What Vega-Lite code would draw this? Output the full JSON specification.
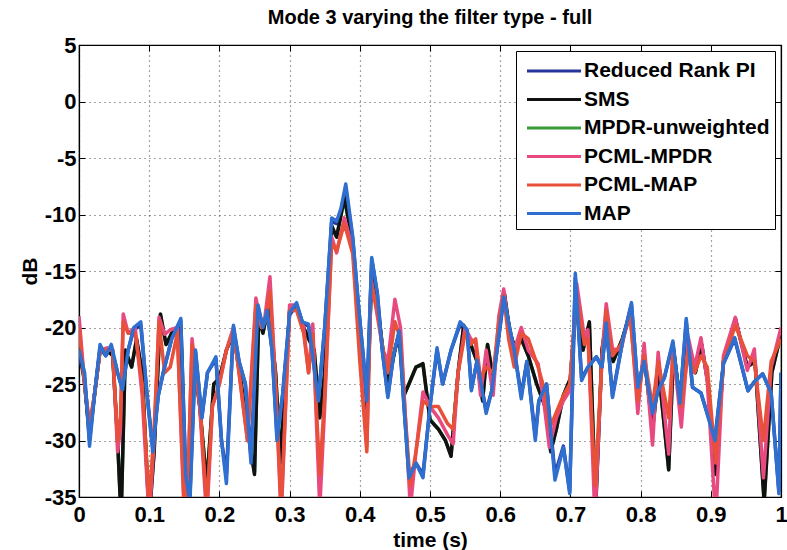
{
  "$schema": "https://vega.github.io/schema/vega-lite/v6.json",
  "width": 702,
  "height": 452,
  "autosize": {"type": "none"},
  "padding": {"left": 79, "top": 45, "right": 6, "bottom": 53},
  "background": "white",
  "title": {"text": "Mode 3 varying the filter type - full", "font": "Liberation Sans", "fontSize": 20, "fontWeight": "bold", "color": "black", "offset": 6},
  "config": {
    "view": {"stroke": "black", "strokeWidth": 1.2},
    "axis": {"domainColor": "black", "domainWidth": 1.2, "tickColor": "black", "tickWidth": 1, "labelFont": "Liberation Sans", "labelFontWeight": "bold", "labelFontSize": 22, "labelColor": "black", "titleFont": "Liberation Sans", "titleFontWeight": "bold", "titleFontSize": 21, "titleColor": "black", "gridColor": "#333333", "gridDash": [1, 4], "gridWidth": 1.2, "gridOpacity": 0.9}
  },
  "data": {"values": [
    {"s":"Reduced Rank PI","t":0.000,"v":-22.5},{"s":"Reduced Rank PI","t":0.008,"v":-24.5},{"s":"Reduced Rank PI","t":0.015,"v":-30},{"s":"Reduced Rank PI","t":0.022,"v":-26},{"s":"Reduced Rank PI","t":0.030,"v":-21.8},{"s":"Reduced Rank PI","t":0.038,"v":-22.5},{"s":"Reduced Rank PI","t":0.046,"v":-21.8},{"s":"Reduced Rank PI","t":0.055,"v":-24},{"s":"Reduced Rank PI","t":0.062,"v":-25.5},{"s":"Reduced Rank PI","t":0.070,"v":-22},{"s":"Reduced Rank PI","t":0.078,"v":-20.2},{"s":"Reduced Rank PI","t":0.088,"v":-19.8},{"s":"Reduced Rank PI","t":0.097,"v":-26},{"s":"Reduced Rank PI","t":0.105,"v":-30.5},{"s":"Reduced Rank PI","t":0.113,"v":-26},{"s":"Reduced Rank PI","t":0.120,"v":-24},{"s":"Reduced Rank PI","t":0.132,"v":-21},{"s":"Reduced Rank PI","t":0.145,"v":-19.4},{"s":"Reduced Rank PI","t":0.152,"v":-33},{"s":"Reduced Rank PI","t":0.158,"v":-35},{"s":"Reduced Rank PI","t":0.166,"v":-22.2},{"s":"Reduced Rank PI","t":0.175,"v":-28},{"s":"Reduced Rank PI","t":0.183,"v":-24},{"s":"Reduced Rank PI","t":0.195,"v":-22.8},{"s":"Reduced Rank PI","t":0.203,"v":-30},{"s":"Reduced Rank PI","t":0.210,"v":-33},{"s":"Reduced Rank PI","t":0.220,"v":-20},{"s":"Reduced Rank PI","t":0.228,"v":-23},{"s":"Reduced Rank PI","t":0.237,"v":-25},{"s":"Reduced Rank PI","t":0.245,"v":-31.5},{"s":"Reduced Rank PI","t":0.255,"v":-18.2},{"s":"Reduced Rank PI","t":0.262,"v":-20},{"s":"Reduced Rank PI","t":0.268,"v":-18.7},{"s":"Reduced Rank PI","t":0.275,"v":-22},{"s":"Reduced Rank PI","t":0.282,"v":-29.5},{"s":"Reduced Rank PI","t":0.290,"v":-26},{"s":"Reduced Rank PI","t":0.300,"v":-18.9},{"s":"Reduced Rank PI","t":0.310,"v":-18},{"s":"Reduced Rank PI","t":0.318,"v":-19.5},{"s":"Reduced Rank PI","t":0.327,"v":-19.9},{"s":"Reduced Rank PI","t":0.334,"v":-23},{"s":"Reduced Rank PI","t":0.341,"v":-26.3},{"s":"Reduced Rank PI","t":0.350,"v":-20},{"s":"Reduced Rank PI","t":0.360,"v":-10.6},{"s":"Reduced Rank PI","t":0.367,"v":-10.8},{"s":"Reduced Rank PI","t":0.373,"v":-9.8},{"s":"Reduced Rank PI","t":0.380,"v":-7.7},{"s":"Reduced Rank PI","t":0.390,"v":-12.2},{"s":"Reduced Rank PI","t":0.398,"v":-18},{"s":"Reduced Rank PI","t":0.405,"v":-22.6},{"s":"Reduced Rank PI","t":0.410,"v":-26.3},{"s":"Reduced Rank PI","t":0.417,"v":-14},{"s":"Reduced Rank PI","t":0.425,"v":-17},{"s":"Reduced Rank PI","t":0.432,"v":-22},{"s":"Reduced Rank PI","t":0.440,"v":-26},{"s":"Reduced Rank PI","t":0.448,"v":-22.5},{"s":"Reduced Rank PI","t":0.456,"v":-20.5},{"s":"Reduced Rank PI","t":0.463,"v":-27},{"s":"Reduced Rank PI","t":0.470,"v":-33},{"s":"Reduced Rank PI","t":0.480,"v":-32},{"s":"Reduced Rank PI","t":0.490,"v":-33},{"s":"Reduced Rank PI","t":0.500,"v":-27},{"s":"Reduced Rank PI","t":0.510,"v":-22},{"s":"Reduced Rank PI","t":0.518,"v":-25},{"s":"Reduced Rank PI","t":0.530,"v":-22},{"s":"Reduced Rank PI","t":0.543,"v":-19.7},{"s":"Reduced Rank PI","t":0.553,"v":-20.4},{"s":"Reduced Rank PI","t":0.559,"v":-25.4},{"s":"Reduced Rank PI","t":0.567,"v":-23},{"s":"Reduced Rank PI","t":0.580,"v":-27.4},{"s":"Reduced Rank PI","t":0.588,"v":-25.6},{"s":"Reduced Rank PI","t":0.605,"v":-17.5},{"s":"Reduced Rank PI","t":0.614,"v":-20.2},{"s":"Reduced Rank PI","t":0.620,"v":-22},{"s":"Reduced Rank PI","t":0.630,"v":-26},{"s":"Reduced Rank PI","t":0.638,"v":-23},{"s":"Reduced Rank PI","t":0.650,"v":-29.6},{"s":"Reduced Rank PI","t":0.655,"v":-26.5},{"s":"Reduced Rank PI","t":0.666,"v":-25},{"s":"Reduced Rank PI","t":0.678,"v":-33},{"s":"Reduced Rank PI","t":0.690,"v":-30.5},{"s":"Reduced Rank PI","t":0.699,"v":-34.5},{"s":"Reduced Rank PI","t":0.707,"v":-15.6},{"s":"Reduced Rank PI","t":0.716,"v":-24.5},{"s":"Reduced Rank PI","t":0.725,"v":-23.5},{"s":"Reduced Rank PI","t":0.737,"v":-22.6},{"s":"Reduced Rank PI","t":0.745,"v":-23.5},{"s":"Reduced Rank PI","t":0.751,"v":-19.8},{"s":"Reduced Rank PI","t":0.760,"v":-26},{"s":"Reduced Rank PI","t":0.775,"v":-21},{"s":"Reduced Rank PI","t":0.787,"v":-18},{"s":"Reduced Rank PI","t":0.796,"v":-25.3},{"s":"Reduced Rank PI","t":0.805,"v":-23},{"s":"Reduced Rank PI","t":0.817,"v":-27.4},{"s":"Reduced Rank PI","t":0.825,"v":-25.6},{"s":"Reduced Rank PI","t":0.834,"v":-24.4},{"s":"Reduced Rank PI","t":0.846,"v":-21.4},{"s":"Reduced Rank PI","t":0.856,"v":-26.5},{"s":"Reduced Rank PI","t":0.865,"v":-19.5},{"s":"Reduced Rank PI","t":0.874,"v":-25.3},{"s":"Reduced Rank PI","t":0.886,"v":-25.8},{"s":"Reduced Rank PI","t":0.906,"v":-29.8},{"s":"Reduced Rank PI","t":0.918,"v":-23.2},{"s":"Reduced Rank PI","t":0.934,"v":-21},{"s":"Reduced Rank PI","t":0.953,"v":-25.6},{"s":"Reduced Rank PI","t":0.962,"v":-24.8},{"s":"Reduced Rank PI","t":0.974,"v":-24.1},{"s":"Reduced Rank PI","t":0.986,"v":-25.8},{"s":"Reduced Rank PI","t":0.997,"v":-34.5},{"s":"Reduced Rank PI","t":1.000,"v":-24},

    {"s":"MPDR-unweighted","t":0.000,"v":-21.1},{"s":"MPDR-unweighted","t":0.008,"v":-25},{"s":"MPDR-unweighted","t":0.015,"v":-29.4},{"s":"MPDR-unweighted","t":0.022,"v":-26},{"s":"MPDR-unweighted","t":0.030,"v":-22.1},{"s":"MPDR-unweighted","t":0.040,"v":-22},{"s":"MPDR-unweighted","t":0.048,"v":-22.5},{"s":"MPDR-unweighted","t":0.055,"v":-30},{"s":"MPDR-unweighted","t":0.060,"v":-36.8},{"s":"MPDR-unweighted","t":0.066,"v":-22.1},{"s":"MPDR-unweighted","t":0.075,"v":-23.5},{"s":"MPDR-unweighted","t":0.082,"v":-21.1},{"s":"MPDR-unweighted","t":0.090,"v":-24},{"s":"MPDR-unweighted","t":0.100,"v":-36.8},{"s":"MPDR-unweighted","t":0.107,"v":-31},{"s":"MPDR-unweighted","t":0.116,"v":-18.9},{"s":"MPDR-unweighted","t":0.124,"v":-21.5},{"s":"MPDR-unweighted","t":0.132,"v":-20.6},{"s":"MPDR-unweighted","t":0.145,"v":-20},{"s":"MPDR-unweighted","t":0.152,"v":-35.8},{"s":"MPDR-unweighted","t":0.158,"v":-33},{"s":"MPDR-unweighted","t":0.163,"v":-22.5},{"s":"MPDR-unweighted","t":0.172,"v":-27},{"s":"MPDR-unweighted","t":0.182,"v":-33.8},{"s":"MPDR-unweighted","t":0.192,"v":-25},{"s":"MPDR-unweighted","t":0.200,"v":-24.5},{"s":"MPDR-unweighted","t":0.210,"v":-22},{"s":"MPDR-unweighted","t":0.220,"v":-20.6},{"s":"MPDR-unweighted","t":0.230,"v":-24.5},{"s":"MPDR-unweighted","t":0.240,"v":-29},{"s":"MPDR-unweighted","t":0.250,"v":-32.8},{"s":"MPDR-unweighted","t":0.256,"v":-19.1},{"s":"MPDR-unweighted","t":0.262,"v":-20.5},{"s":"MPDR-unweighted","t":0.270,"v":-18.1},{"s":"MPDR-unweighted","t":0.280,"v":-24},{"s":"MPDR-unweighted","t":0.287,"v":-31.8},{"s":"MPDR-unweighted","t":0.300,"v":-18.6},{"s":"MPDR-unweighted","t":0.310,"v":-18},{"s":"MPDR-unweighted","t":0.320,"v":-20},{"s":"MPDR-unweighted","t":0.327,"v":-21},{"s":"MPDR-unweighted","t":0.335,"v":-22},{"s":"MPDR-unweighted","t":0.343,"v":-27.9},{"s":"MPDR-unweighted","t":0.350,"v":-24},{"s":"MPDR-unweighted","t":0.360,"v":-11.1},{"s":"MPDR-unweighted","t":0.367,"v":-12},{"s":"MPDR-unweighted","t":0.378,"v":-8.6},{"s":"MPDR-unweighted","t":0.390,"v":-12.5},{"s":"MPDR-unweighted","t":0.400,"v":-21},{"s":"MPDR-unweighted","t":0.410,"v":-27.9},{"s":"MPDR-unweighted","t":0.417,"v":-15.1},{"s":"MPDR-unweighted","t":0.425,"v":-18},{"s":"MPDR-unweighted","t":0.433,"v":-22},{"s":"MPDR-unweighted","t":0.440,"v":-25},{"s":"MPDR-unweighted","t":0.450,"v":-22},{"s":"MPDR-unweighted","t":0.456,"v":-20.5},{"s":"MPDR-unweighted","t":0.463,"v":-26},{"s":"MPDR-unweighted","t":0.470,"v":-25},{"s":"MPDR-unweighted","t":0.480,"v":-23.5},{"s":"MPDR-unweighted","t":0.490,"v":-23.3},{"s":"MPDR-unweighted","t":0.500,"v":-28.1},{"s":"MPDR-unweighted","t":0.512,"v":-29},{"s":"MPDR-unweighted","t":0.522,"v":-30},{"s":"MPDR-unweighted","t":0.530,"v":-31.3},{"s":"MPDR-unweighted","t":0.540,"v":-24},{"s":"MPDR-unweighted","t":0.548,"v":-19.9},{"s":"MPDR-unweighted","t":0.558,"v":-21.5},{"s":"MPDR-unweighted","t":0.567,"v":-23},{"s":"MPDR-unweighted","t":0.575,"v":-26.4},{"s":"MPDR-unweighted","t":0.582,"v":-21.5},{"s":"MPDR-unweighted","t":0.590,"v":-24.5},{"s":"MPDR-unweighted","t":0.600,"v":-19},{"s":"MPDR-unweighted","t":0.606,"v":-17.1},{"s":"MPDR-unweighted","t":0.614,"v":-20.5},{"s":"MPDR-unweighted","t":0.622,"v":-22},{"s":"MPDR-unweighted","t":0.630,"v":-21},{"s":"MPDR-unweighted","t":0.640,"v":-22.5},{"s":"MPDR-unweighted","t":0.652,"v":-25},{"s":"MPDR-unweighted","t":0.664,"v":-27},{"s":"MPDR-unweighted","t":0.672,"v":-30.9},{"s":"MPDR-unweighted","t":0.680,"v":-29},{"s":"MPDR-unweighted","t":0.690,"v":-26},{"s":"MPDR-unweighted","t":0.700,"v":-24.5},{"s":"MPDR-unweighted","t":0.709,"v":-17.1},{"s":"MPDR-unweighted","t":0.718,"v":-22},{"s":"MPDR-unweighted","t":0.727,"v":-19.6},{"s":"MPDR-unweighted","t":0.736,"v":-35.8},{"s":"MPDR-unweighted","t":0.745,"v":-22},{"s":"MPDR-unweighted","t":0.752,"v":-19.1},{"s":"MPDR-unweighted","t":0.761,"v":-23},{"s":"MPDR-unweighted","t":0.774,"v":-21},{"s":"MPDR-unweighted","t":0.786,"v":-18.6},{"s":"MPDR-unweighted","t":0.796,"v":-26},{"s":"MPDR-unweighted","t":0.805,"v":-22.5},{"s":"MPDR-unweighted","t":0.817,"v":-28.9},{"s":"MPDR-unweighted","t":0.826,"v":-24},{"s":"MPDR-unweighted","t":0.840,"v":-32.5},{"s":"MPDR-unweighted","t":0.847,"v":-22},{"s":"MPDR-unweighted","t":0.858,"v":-27.5},{"s":"MPDR-unweighted","t":0.867,"v":-21.1},{"s":"MPDR-unweighted","t":0.878,"v":-24},{"s":"MPDR-unweighted","t":0.887,"v":-21.5},{"s":"MPDR-unweighted","t":0.896,"v":-25},{"s":"MPDR-unweighted","t":0.907,"v":-32.9},{"s":"MPDR-unweighted","t":0.918,"v":-23},{"s":"MPDR-unweighted","t":0.935,"v":-19.3},{"s":"MPDR-unweighted","t":0.952,"v":-23.5},{"s":"MPDR-unweighted","t":0.963,"v":-23},{"s":"MPDR-unweighted","t":0.976,"v":-35.3},{"s":"MPDR-unweighted","t":0.987,"v":-24},{"s":"MPDR-unweighted","t":1.000,"v":-20.6},

    {"s":"SMS","t":0.000,"v":-21},{"s":"SMS","t":0.008,"v":-25},{"s":"SMS","t":0.015,"v":-29.5},{"s":"SMS","t":0.022,"v":-26},{"s":"SMS","t":0.030,"v":-22},{"s":"SMS","t":0.040,"v":-22},{"s":"SMS","t":0.048,"v":-22.5},{"s":"SMS","t":0.055,"v":-30},{"s":"SMS","t":0.060,"v":-37},{"s":"SMS","t":0.066,"v":-22},{"s":"SMS","t":0.075,"v":-23.5},{"s":"SMS","t":0.082,"v":-21},{"s":"SMS","t":0.090,"v":-24},{"s":"SMS","t":0.100,"v":-37},{"s":"SMS","t":0.107,"v":-31},{"s":"SMS","t":0.116,"v":-18.8},{"s":"SMS","t":0.124,"v":-21.5},{"s":"SMS","t":0.132,"v":-20.5},{"s":"SMS","t":0.145,"v":-20},{"s":"SMS","t":0.152,"v":-36},{"s":"SMS","t":0.158,"v":-33},{"s":"SMS","t":0.163,"v":-22.5},{"s":"SMS","t":0.172,"v":-27},{"s":"SMS","t":0.182,"v":-34},{"s":"SMS","t":0.192,"v":-25},{"s":"SMS","t":0.200,"v":-24.5},{"s":"SMS","t":0.210,"v":-22},{"s":"SMS","t":0.220,"v":-20.5},{"s":"SMS","t":0.230,"v":-24.5},{"s":"SMS","t":0.240,"v":-29},{"s":"SMS","t":0.250,"v":-33},{"s":"SMS","t":0.256,"v":-19},{"s":"SMS","t":0.262,"v":-20.5},{"s":"SMS","t":0.270,"v":-18},{"s":"SMS","t":0.280,"v":-24},{"s":"SMS","t":0.287,"v":-32},{"s":"SMS","t":0.300,"v":-18.5},{"s":"SMS","t":0.310,"v":-18},{"s":"SMS","t":0.320,"v":-20},{"s":"SMS","t":0.327,"v":-21},{"s":"SMS","t":0.335,"v":-22},{"s":"SMS","t":0.343,"v":-28},{"s":"SMS","t":0.350,"v":-24},{"s":"SMS","t":0.360,"v":-11},{"s":"SMS","t":0.367,"v":-12},{"s":"SMS","t":0.378,"v":-8.5},{"s":"SMS","t":0.390,"v":-12.5},{"s":"SMS","t":0.400,"v":-21},{"s":"SMS","t":0.410,"v":-28},{"s":"SMS","t":0.417,"v":-15},{"s":"SMS","t":0.425,"v":-18},{"s":"SMS","t":0.433,"v":-22},{"s":"SMS","t":0.440,"v":-25},{"s":"SMS","t":0.450,"v":-22},{"s":"SMS","t":0.456,"v":-20.5},{"s":"SMS","t":0.463,"v":-26},{"s":"SMS","t":0.470,"v":-25},{"s":"SMS","t":0.480,"v":-23.5},{"s":"SMS","t":0.490,"v":-23.2},{"s":"SMS","t":0.500,"v":-28.2},{"s":"SMS","t":0.512,"v":-29},{"s":"SMS","t":0.522,"v":-30},{"s":"SMS","t":0.530,"v":-31.4},{"s":"SMS","t":0.540,"v":-24},{"s":"SMS","t":0.548,"v":-19.8},{"s":"SMS","t":0.558,"v":-21.5},{"s":"SMS","t":0.567,"v":-23},{"s":"SMS","t":0.575,"v":-26.5},{"s":"SMS","t":0.582,"v":-21.5},{"s":"SMS","t":0.590,"v":-24.5},{"s":"SMS","t":0.600,"v":-19},{"s":"SMS","t":0.606,"v":-17},{"s":"SMS","t":0.614,"v":-20.5},{"s":"SMS","t":0.622,"v":-22},{"s":"SMS","t":0.630,"v":-21},{"s":"SMS","t":0.640,"v":-22.5},{"s":"SMS","t":0.652,"v":-25},{"s":"SMS","t":0.664,"v":-27},{"s":"SMS","t":0.672,"v":-31},{"s":"SMS","t":0.680,"v":-29},{"s":"SMS","t":0.690,"v":-26},{"s":"SMS","t":0.700,"v":-24.5},{"s":"SMS","t":0.709,"v":-17},{"s":"SMS","t":0.718,"v":-22},{"s":"SMS","t":0.727,"v":-19.5},{"s":"SMS","t":0.736,"v":-36},{"s":"SMS","t":0.745,"v":-22},{"s":"SMS","t":0.752,"v":-19},{"s":"SMS","t":0.761,"v":-23},{"s":"SMS","t":0.774,"v":-21},{"s":"SMS","t":0.786,"v":-18.5},{"s":"SMS","t":0.796,"v":-26},{"s":"SMS","t":0.805,"v":-22.5},{"s":"SMS","t":0.817,"v":-29},{"s":"SMS","t":0.826,"v":-24},{"s":"SMS","t":0.840,"v":-32.6},{"s":"SMS","t":0.847,"v":-22},{"s":"SMS","t":0.858,"v":-27.5},{"s":"SMS","t":0.867,"v":-21},{"s":"SMS","t":0.878,"v":-24},{"s":"SMS","t":0.887,"v":-21.5},{"s":"SMS","t":0.896,"v":-25},{"s":"SMS","t":0.907,"v":-33},{"s":"SMS","t":0.918,"v":-23},{"s":"SMS","t":0.935,"v":-19.2},{"s":"SMS","t":0.952,"v":-23.5},{"s":"SMS","t":0.963,"v":-23},{"s":"SMS","t":0.976,"v":-35.5},{"s":"SMS","t":0.987,"v":-24},{"s":"SMS","t":1.000,"v":-20.5},

    {"s":"PCML-MPDR","t":0.000,"v":-19},{"s":"PCML-MPDR","t":0.008,"v":-25},{"s":"PCML-MPDR","t":0.015,"v":-29},{"s":"PCML-MPDR","t":0.022,"v":-26},{"s":"PCML-MPDR","t":0.030,"v":-22},{"s":"PCML-MPDR","t":0.040,"v":-21.8},{"s":"PCML-MPDR","t":0.048,"v":-22},{"s":"PCML-MPDR","t":0.055,"v":-31},{"s":"PCML-MPDR","t":0.059,"v":-29},{"s":"PCML-MPDR","t":0.063,"v":-18.8},{"s":"PCML-MPDR","t":0.070,"v":-20.5},{"s":"PCML-MPDR","t":0.080,"v":-20},{"s":"PCML-MPDR","t":0.090,"v":-26},{"s":"PCML-MPDR","t":0.100,"v":-37},{"s":"PCML-MPDR","t":0.107,"v":-30},{"s":"PCML-MPDR","t":0.114,"v":-19.1},{"s":"PCML-MPDR","t":0.122,"v":-20.6},{"s":"PCML-MPDR","t":0.130,"v":-20.2},{"s":"PCML-MPDR","t":0.140,"v":-20},{"s":"PCML-MPDR","t":0.150,"v":-37},{"s":"PCML-MPDR","t":0.156,"v":-32},{"s":"PCML-MPDR","t":0.161,"v":-21},{"s":"PCML-MPDR","t":0.172,"v":-27},{"s":"PCML-MPDR","t":0.182,"v":-37},{"s":"PCML-MPDR","t":0.190,"v":-27},{"s":"PCML-MPDR","t":0.200,"v":-25},{"s":"PCML-MPDR","t":0.210,"v":-22},{"s":"PCML-MPDR","t":0.220,"v":-20},{"s":"PCML-MPDR","t":0.230,"v":-25},{"s":"PCML-MPDR","t":0.240,"v":-30},{"s":"PCML-MPDR","t":0.252,"v":-17.4},{"s":"PCML-MPDR","t":0.260,"v":-20},{"s":"PCML-MPDR","t":0.265,"v":-19},{"s":"PCML-MPDR","t":0.272,"v":-15.5},{"s":"PCML-MPDR","t":0.280,"v":-25},{"s":"PCML-MPDR","t":0.288,"v":-37},{"s":"PCML-MPDR","t":0.300,"v":-18},{"s":"PCML-MPDR","t":0.310,"v":-18},{"s":"PCML-MPDR","t":0.320,"v":-20},{"s":"PCML-MPDR","t":0.327,"v":-24},{"s":"PCML-MPDR","t":0.333,"v":-19.7},{"s":"PCML-MPDR","t":0.338,"v":-28},{"s":"PCML-MPDR","t":0.343,"v":-36},{"s":"PCML-MPDR","t":0.350,"v":-27},{"s":"PCML-MPDR","t":0.360,"v":-12},{"s":"PCML-MPDR","t":0.367,"v":-13.4},{"s":"PCML-MPDR","t":0.378,"v":-10.3},{"s":"PCML-MPDR","t":0.390,"v":-13},{"s":"PCML-MPDR","t":0.400,"v":-22},{"s":"PCML-MPDR","t":0.410,"v":-30.5},{"s":"PCML-MPDR","t":0.416,"v":-15.6},{"s":"PCML-MPDR","t":0.425,"v":-19},{"s":"PCML-MPDR","t":0.433,"v":-22},{"s":"PCML-MPDR","t":0.440,"v":-23},{"s":"PCML-MPDR","t":0.450,"v":-17.5},{"s":"PCML-MPDR","t":0.458,"v":-20},{"s":"PCML-MPDR","t":0.465,"v":-28},{"s":"PCML-MPDR","t":0.472,"v":-36},{"s":"PCML-MPDR","t":0.480,"v":-31},{"s":"PCML-MPDR","t":0.490,"v":-25.7},{"s":"PCML-MPDR","t":0.500,"v":-27},{"s":"PCML-MPDR","t":0.512,"v":-28},{"s":"PCML-MPDR","t":0.525,"v":-29.5},{"s":"PCML-MPDR","t":0.533,"v":-30.3},{"s":"PCML-MPDR","t":0.540,"v":-24},{"s":"PCML-MPDR","t":0.550,"v":-20},{"s":"PCML-MPDR","t":0.558,"v":-21},{"s":"PCML-MPDR","t":0.565,"v":-21.4},{"s":"PCML-MPDR","t":0.572,"v":-26},{"s":"PCML-MPDR","t":0.580,"v":-22},{"s":"PCML-MPDR","t":0.590,"v":-26},{"s":"PCML-MPDR","t":0.598,"v":-19},{"s":"PCML-MPDR","t":0.605,"v":-16.6},{"s":"PCML-MPDR","t":0.612,"v":-20},{"s":"PCML-MPDR","t":0.620,"v":-22},{"s":"PCML-MPDR","t":0.630,"v":-20},{"s":"PCML-MPDR","t":0.640,"v":-22},{"s":"PCML-MPDR","t":0.654,"v":-23.2},{"s":"PCML-MPDR","t":0.663,"v":-27},{"s":"PCML-MPDR","t":0.670,"v":-30.6},{"s":"PCML-MPDR","t":0.680,"v":-28},{"s":"PCML-MPDR","t":0.690,"v":-26.5},{"s":"PCML-MPDR","t":0.699,"v":-25.6},{"s":"PCML-MPDR","t":0.709,"v":-16.1},{"s":"PCML-MPDR","t":0.720,"v":-20.9},{"s":"PCML-MPDR","t":0.725,"v":-20.2},{"s":"PCML-MPDR","t":0.735,"v":-37},{"s":"PCML-MPDR","t":0.745,"v":-22.5},{"s":"PCML-MPDR","t":0.751,"v":-17.9},{"s":"PCML-MPDR","t":0.760,"v":-21.9},{"s":"PCML-MPDR","t":0.772,"v":-22},{"s":"PCML-MPDR","t":0.785,"v":-18.4},{"s":"PCML-MPDR","t":0.796,"v":-27.6},{"s":"PCML-MPDR","t":0.805,"v":-21.4},{"s":"PCML-MPDR","t":0.817,"v":-30.4},{"s":"PCML-MPDR","t":0.825,"v":-22.2},{"s":"PCML-MPDR","t":0.840,"v":-31.2},{"s":"PCML-MPDR","t":0.846,"v":-21.8},{"s":"PCML-MPDR","t":0.858,"v":-28.8},{"s":"PCML-MPDR","t":0.868,"v":-20.9},{"s":"PCML-MPDR","t":0.877,"v":-23.5},{"s":"PCML-MPDR","t":0.886,"v":-20.9},{"s":"PCML-MPDR","t":0.895,"v":-24.8},{"s":"PCML-MPDR","t":0.907,"v":-37},{"s":"PCML-MPDR","t":0.918,"v":-22.5},{"s":"PCML-MPDR","t":0.935,"v":-19.1},{"s":"PCML-MPDR","t":0.952,"v":-23.8},{"s":"PCML-MPDR","t":0.962,"v":-21.9},{"s":"PCML-MPDR","t":0.975,"v":-33.3},{"s":"PCML-MPDR","t":0.986,"v":-23.5},{"s":"PCML-MPDR","t":1.000,"v":-20},

    {"s":"PCML-MAP","t":0.000,"v":-20},{"s":"PCML-MAP","t":0.008,"v":-25},{"s":"PCML-MAP","t":0.015,"v":-28.5},{"s":"PCML-MAP","t":0.022,"v":-26},{"s":"PCML-MAP","t":0.030,"v":-22},{"s":"PCML-MAP","t":0.040,"v":-22},{"s":"PCML-MAP","t":0.048,"v":-22},{"s":"PCML-MAP","t":0.055,"v":-30},{"s":"PCML-MAP","t":0.059,"v":-28},{"s":"PCML-MAP","t":0.063,"v":-19.5},{"s":"PCML-MAP","t":0.070,"v":-20.5},{"s":"PCML-MAP","t":0.080,"v":-20.5},{"s":"PCML-MAP","t":0.090,"v":-25},{"s":"PCML-MAP","t":0.100,"v":-35.5},{"s":"PCML-MAP","t":0.107,"v":-29},{"s":"PCML-MAP","t":0.114,"v":-19.5},{"s":"PCML-MAP","t":0.122,"v":-24},{"s":"PCML-MAP","t":0.130,"v":-23.5},{"s":"PCML-MAP","t":0.140,"v":-20.5},{"s":"PCML-MAP","t":0.150,"v":-36},{"s":"PCML-MAP","t":0.156,"v":-32},{"s":"PCML-MAP","t":0.161,"v":-21.5},{"s":"PCML-MAP","t":0.172,"v":-26.5},{"s":"PCML-MAP","t":0.182,"v":-36},{"s":"PCML-MAP","t":0.190,"v":-27},{"s":"PCML-MAP","t":0.200,"v":-25},{"s":"PCML-MAP","t":0.210,"v":-22},{"s":"PCML-MAP","t":0.220,"v":-20.2},{"s":"PCML-MAP","t":0.230,"v":-25},{"s":"PCML-MAP","t":0.240,"v":-30},{"s":"PCML-MAP","t":0.252,"v":-18},{"s":"PCML-MAP","t":0.260,"v":-20},{"s":"PCML-MAP","t":0.265,"v":-19.5},{"s":"PCML-MAP","t":0.272,"v":-16.8},{"s":"PCML-MAP","t":0.280,"v":-25},{"s":"PCML-MAP","t":0.288,"v":-36},{"s":"PCML-MAP","t":0.300,"v":-18.5},{"s":"PCML-MAP","t":0.310,"v":-18.5},{"s":"PCML-MAP","t":0.320,"v":-20.5},{"s":"PCML-MAP","t":0.327,"v":-24},{"s":"PCML-MAP","t":0.333,"v":-20.5},{"s":"PCML-MAP","t":0.338,"v":-27},{"s":"PCML-MAP","t":0.343,"v":-33},{"s":"PCML-MAP","t":0.350,"v":-26},{"s":"PCML-MAP","t":0.360,"v":-12.5},{"s":"PCML-MAP","t":0.367,"v":-13.2},{"s":"PCML-MAP","t":0.378,"v":-10.8},{"s":"PCML-MAP","t":0.390,"v":-13.5},{"s":"PCML-MAP","t":0.400,"v":-23},{"s":"PCML-MAP","t":0.410,"v":-31},{"s":"PCML-MAP","t":0.416,"v":-16},{"s":"PCML-MAP","t":0.425,"v":-18.5},{"s":"PCML-MAP","t":0.433,"v":-22},{"s":"PCML-MAP","t":0.440,"v":-24},{"s":"PCML-MAP","t":0.450,"v":-19.5},{"s":"PCML-MAP","t":0.458,"v":-21},{"s":"PCML-MAP","t":0.465,"v":-28},{"s":"PCML-MAP","t":0.472,"v":-34},{"s":"PCML-MAP","t":0.480,"v":-31},{"s":"PCML-MAP","t":0.490,"v":-26.5},{"s":"PCML-MAP","t":0.500,"v":-27},{"s":"PCML-MAP","t":0.512,"v":-27},{"s":"PCML-MAP","t":0.525,"v":-28.5},{"s":"PCML-MAP","t":0.533,"v":-29},{"s":"PCML-MAP","t":0.540,"v":-24},{"s":"PCML-MAP","t":0.550,"v":-20.5},{"s":"PCML-MAP","t":0.558,"v":-21.5},{"s":"PCML-MAP","t":0.565,"v":-21},{"s":"PCML-MAP","t":0.572,"v":-24.5},{"s":"PCML-MAP","t":0.580,"v":-23.5},{"s":"PCML-MAP","t":0.590,"v":-24},{"s":"PCML-MAP","t":0.598,"v":-19.5},{"s":"PCML-MAP","t":0.605,"v":-17.2},{"s":"PCML-MAP","t":0.612,"v":-21},{"s":"PCML-MAP","t":0.620,"v":-23.5},{"s":"PCML-MAP","t":0.630,"v":-20.5},{"s":"PCML-MAP","t":0.640,"v":-21},{"s":"PCML-MAP","t":0.654,"v":-23.5},{"s":"PCML-MAP","t":0.663,"v":-25.5},{"s":"PCML-MAP","t":0.670,"v":-29},{"s":"PCML-MAP","t":0.680,"v":-27.5},{"s":"PCML-MAP","t":0.690,"v":-26},{"s":"PCML-MAP","t":0.699,"v":-25},{"s":"PCML-MAP","t":0.709,"v":-17},{"s":"PCML-MAP","t":0.720,"v":-21.5},{"s":"PCML-MAP","t":0.725,"v":-21},{"s":"PCML-MAP","t":0.735,"v":-34},{"s":"PCML-MAP","t":0.745,"v":-23},{"s":"PCML-MAP","t":0.751,"v":-18.5},{"s":"PCML-MAP","t":0.760,"v":-22.5},{"s":"PCML-MAP","t":0.772,"v":-21.5},{"s":"PCML-MAP","t":0.785,"v":-19},{"s":"PCML-MAP","t":0.796,"v":-26.5},{"s":"PCML-MAP","t":0.805,"v":-22.5},{"s":"PCML-MAP","t":0.817,"v":-27},{"s":"PCML-MAP","t":0.825,"v":-23},{"s":"PCML-MAP","t":0.840,"v":-28},{"s":"PCML-MAP","t":0.846,"v":-22.5},{"s":"PCML-MAP","t":0.858,"v":-27},{"s":"PCML-MAP","t":0.868,"v":-22},{"s":"PCML-MAP","t":0.877,"v":-24},{"s":"PCML-MAP","t":0.886,"v":-22.5},{"s":"PCML-MAP","t":0.895,"v":-23.5},{"s":"PCML-MAP","t":0.907,"v":-32},{"s":"PCML-MAP","t":0.918,"v":-23},{"s":"PCML-MAP","t":0.935,"v":-19.8},{"s":"PCML-MAP","t":0.952,"v":-22.5},{"s":"PCML-MAP","t":0.962,"v":-23},{"s":"PCML-MAP","t":0.975,"v":-30},{"s":"PCML-MAP","t":0.986,"v":-23},{"s":"PCML-MAP","t":1.000,"v":-21},

    {"s":"MAP","t":0.000,"v":-22},{"s":"MAP","t":0.008,"v":-24},{"s":"MAP","t":0.015,"v":-30.5},{"s":"MAP","t":0.022,"v":-26},{"s":"MAP","t":0.030,"v":-21.5},{"s":"MAP","t":0.038,"v":-22.5},{"s":"MAP","t":0.046,"v":-21.5},{"s":"MAP","t":0.055,"v":-24},{"s":"MAP","t":0.062,"v":-25.5},{"s":"MAP","t":0.070,"v":-22},{"s":"MAP","t":0.078,"v":-20},{"s":"MAP","t":0.088,"v":-19.5},{"s":"MAP","t":0.097,"v":-26},{"s":"MAP","t":0.105,"v":-31},{"s":"MAP","t":0.113,"v":-26},{"s":"MAP","t":0.120,"v":-24},{"s":"MAP","t":0.132,"v":-21},{"s":"MAP","t":0.145,"v":-19.2},{"s":"MAP","t":0.152,"v":-33},{"s":"MAP","t":0.158,"v":-35.5},{"s":"MAP","t":0.166,"v":-22},{"s":"MAP","t":0.175,"v":-28},{"s":"MAP","t":0.183,"v":-24},{"s":"MAP","t":0.195,"v":-22.6},{"s":"MAP","t":0.203,"v":-30},{"s":"MAP","t":0.210,"v":-33.8},{"s":"MAP","t":0.220,"v":-19.8},{"s":"MAP","t":0.228,"v":-23},{"s":"MAP","t":0.237,"v":-25},{"s":"MAP","t":0.245,"v":-32},{"s":"MAP","t":0.255,"v":-18},{"s":"MAP","t":0.262,"v":-20},{"s":"MAP","t":0.268,"v":-18.5},{"s":"MAP","t":0.275,"v":-22},{"s":"MAP","t":0.282,"v":-30},{"s":"MAP","t":0.290,"v":-26},{"s":"MAP","t":0.300,"v":-18.7},{"s":"MAP","t":0.310,"v":-17.8},{"s":"MAP","t":0.318,"v":-19.5},{"s":"MAP","t":0.327,"v":-19.7},{"s":"MAP","t":0.334,"v":-23},{"s":"MAP","t":0.341,"v":-26.5},{"s":"MAP","t":0.350,"v":-20},{"s":"MAP","t":0.360,"v":-10.3},{"s":"MAP","t":0.367,"v":-10.6},{"s":"MAP","t":0.373,"v":-9.5},{"s":"MAP","t":0.380,"v":-7.3},{"s":"MAP","t":0.390,"v":-12},{"s":"MAP","t":0.398,"v":-18},{"s":"MAP","t":0.405,"v":-22.6},{"s":"MAP","t":0.410,"v":-26.5},{"s":"MAP","t":0.417,"v":-13.8},{"s":"MAP","t":0.425,"v":-17},{"s":"MAP","t":0.432,"v":-22},{"s":"MAP","t":0.440,"v":-26.2},{"s":"MAP","t":0.448,"v":-22.5},{"s":"MAP","t":0.456,"v":-20.3},{"s":"MAP","t":0.463,"v":-27},{"s":"MAP","t":0.470,"v":-33.3},{"s":"MAP","t":0.480,"v":-32},{"s":"MAP","t":0.490,"v":-33.3},{"s":"MAP","t":0.500,"v":-27},{"s":"MAP","t":0.510,"v":-21.8},{"s":"MAP","t":0.518,"v":-25},{"s":"MAP","t":0.530,"v":-22},{"s":"MAP","t":0.543,"v":-19.5},{"s":"MAP","t":0.553,"v":-20.2},{"s":"MAP","t":0.559,"v":-25.6},{"s":"MAP","t":0.567,"v":-22.9},{"s":"MAP","t":0.580,"v":-27.6},{"s":"MAP","t":0.588,"v":-25.6},{"s":"MAP","t":0.605,"v":-17.3},{"s":"MAP","t":0.614,"v":-20.2},{"s":"MAP","t":0.620,"v":-22},{"s":"MAP","t":0.630,"v":-26.3},{"s":"MAP","t":0.638,"v":-23},{"s":"MAP","t":0.650,"v":-30},{"s":"MAP","t":0.655,"v":-26.5},{"s":"MAP","t":0.666,"v":-25},{"s":"MAP","t":0.678,"v":-33.5},{"s":"MAP","t":0.690,"v":-30.6},{"s":"MAP","t":0.699,"v":-34.7},{"s":"MAP","t":0.707,"v":-15.2},{"s":"MAP","t":0.716,"v":-24.7},{"s":"MAP","t":0.725,"v":-23.5},{"s":"MAP","t":0.737,"v":-22.6},{"s":"MAP","t":0.745,"v":-23.5},{"s":"MAP","t":0.751,"v":-19.6},{"s":"MAP","t":0.760,"v":-26.2},{"s":"MAP","t":0.775,"v":-21},{"s":"MAP","t":0.787,"v":-17.8},{"s":"MAP","t":0.796,"v":-25.3},{"s":"MAP","t":0.805,"v":-23},{"s":"MAP","t":0.817,"v":-27.6},{"s":"MAP","t":0.825,"v":-25.6},{"s":"MAP","t":0.834,"v":-24.4},{"s":"MAP","t":0.846,"v":-21.2},{"s":"MAP","t":0.856,"v":-26.7},{"s":"MAP","t":0.865,"v":-19.2},{"s":"MAP","t":0.874,"v":-25.3},{"s":"MAP","t":0.886,"v":-25.8},{"s":"MAP","t":0.906,"v":-30},{"s":"MAP","t":0.918,"v":-23.2},{"s":"MAP","t":0.934,"v":-20.9},{"s":"MAP","t":0.953,"v":-25.6},{"s":"MAP","t":0.962,"v":-24.8},{"s":"MAP","t":0.974,"v":-24.1},{"s":"MAP","t":0.986,"v":-25.8},{"s":"MAP","t":0.997,"v":-34.7},{"s":"MAP","t":1.000,"v":-24}
  ]},
  "layer": [
    {
      "mark": {"type": "line", "strokeWidth": 3.5, "clip": true, "strokeJoin": "round"},
      "encoding": {
        "x": {"field": "t", "type": "quantitative", "scale": {"domain": [0, 1], "nice": false, "zero": false},
              "axis": {"orient": "bottom", "values": [0, 0.1, 0.2, 0.3, 0.4, 0.5, 0.6, 0.7, 0.8, 0.9, 1], "format": "~g", "title": "time (s)", "grid": true, "tickSize": -6, "labelPadding": 13, "titlePadding": 4, "labelFlush": false}},
        "y": {"field": "v", "type": "quantitative", "scale": {"domain": [-35, 5], "nice": false, "zero": false},
              "axis": {"orient": "left", "values": [5, 0, -5, -10, -15, -20, -25, -30, -35], "labelExpr": "datum.value < 0 ? '-' + (-datum.value) : '' + datum.value", "title": "dB", "grid": true, "tickSize": -6, "labelPadding": 9, "titlePadding": 4}},
        "color": {"field": "s", "type": "nominal",
                  "scale": {"domain": ["Reduced Rank PI", "SMS", "MPDR-unweighted", "PCML-MPDR", "PCML-MAP", "MAP"],
                            "range": ["#25349a", "#111111", "#3a9a3a", "#e84a80", "#e8503a", "#2f6fd0"]},
                  "legend": {"orient": "top-right", "offset": 6, "title": null, "symbolType": "M-2,0H2", "symbolSize": 729, "symbolStrokeWidth": 3, "labelFont": "Liberation Sans", "labelFontWeight": "bold", "labelFontSize": 21, "labelColor": "black", "fillColor": "white", "strokeColor": "black", "padding": 5, "rowPadding": 3.5, "symbolOffset": 18, "labelOffset": 15, "labelLimit": 400}}
      }
    },
    {
      "mark": {"type": "point", "opacity": 0},
      "encoding": {
        "x": {"field": "t", "type": "quantitative", "scale": {"domain": [0, 1], "nice": false, "zero": false},
              "axis": {"orient": "top", "values": [0, 0.1, 0.2, 0.3, 0.4, 0.5, 0.6, 0.7, 0.8, 0.9, 1], "labels": false, "title": null, "grid": false, "tickSize": -6}},
        "y": {"field": "v", "type": "quantitative", "scale": {"domain": [-35, 5], "nice": false, "zero": false},
              "axis": {"orient": "right", "values": [5, 0, -5, -10, -15, -20, -25, -30, -35], "labels": false, "title": null, "grid": false, "tickSize": -6}}
      }
    }
  ],
  "resolve": {"axis": {"x": "independent", "y": "independent"}}
}
